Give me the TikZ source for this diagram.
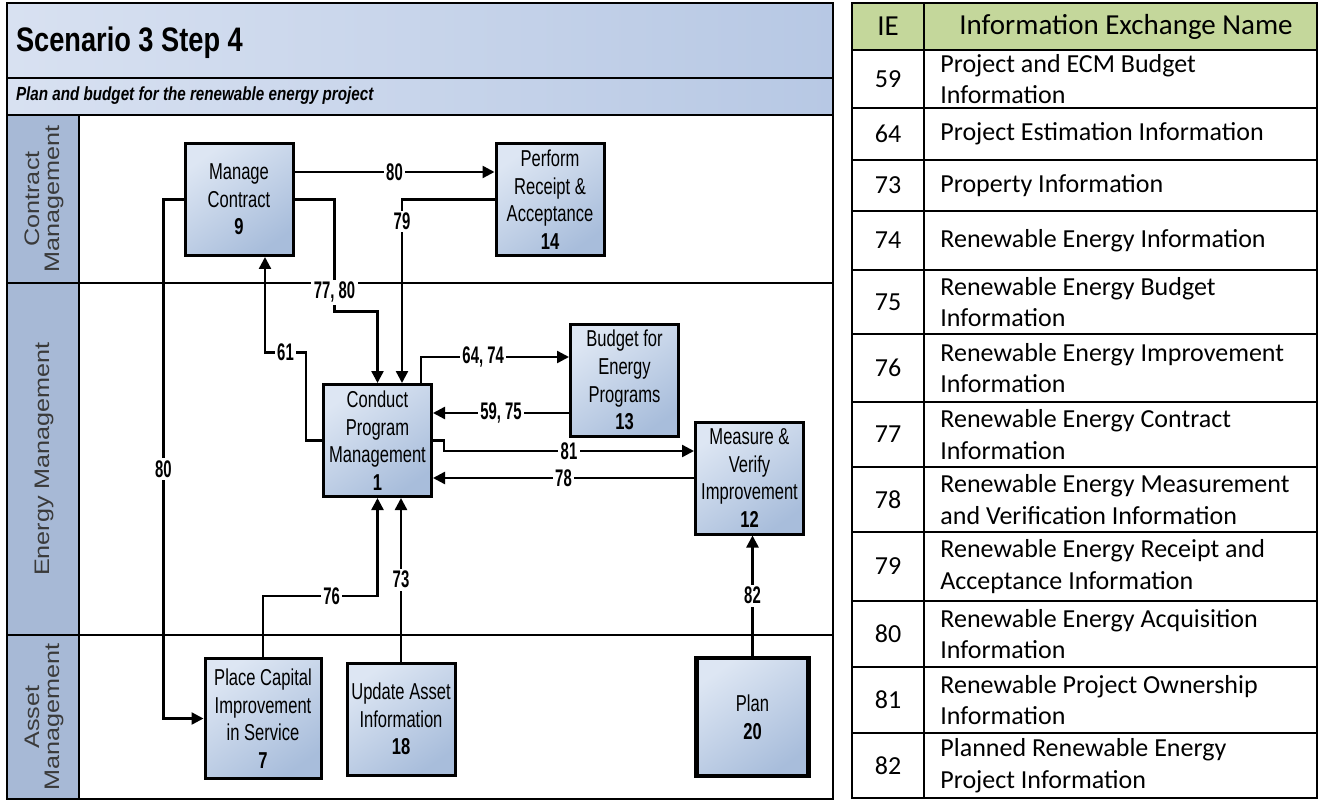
\documentclass[tikz,border=0pt]{standalone}
\usepackage{fontspec}
\setmainfont{Liberation Sans}
\newfontfamily\boxfont[FakeStretch=0.72]{Liberation Sans}
\newfontfamily\lblfont[FakeStretch=0.62]{Liberation Sans}
\newfontfamily\headfont[FakeStretch=0.8]{Liberation Sans}
\newfontfamily\lanefont[FakeStretch=1.2]{Liberation Sans}
\newfontfamily\tabfont{Carlito}
\usetikzlibrary{arrows.meta,calc}
\definecolor{bandlight}{HTML}{D8E1F1}
\definecolor{banddark}{HTML}{B7C8E4}
\definecolor{boxlight}{HTML}{DDE6F3}
\definecolor{boxdark}{HTML}{A8BDDB}
\definecolor{lanedark}{HTML}{A7B9D6}
\definecolor{lanelight}{HTML}{D3DEEE}
\definecolor{lanetext}{HTML}{3A3A3A}
\definecolor{headgreen}{HTML}{C4D79B}

\begin{document}
\begin{tikzpicture}[x=0.5pt,y=-0.5pt,
  proc/.style={draw=black,line width=1.5pt,top color=boxlight,bottom color=boxdark,shading angle=35,
    minimum width=54pt,minimum height=56pt,inner sep=0.5pt,align=center,
    font=\boxfont\fontsize{11.5}{13.8}\selectfont},
  flow/.style={line width=1.2pt,-{Triangle[length=6pt,width=6pt]}},
  ie/.style={fill=white,inner sep=1.2pt,font=\lblfont\bfseries\fontsize{12}{12}\selectfont},
  lane/.style={font=\lanefont\fontsize{10.5}{10}\selectfont,text=lanetext,align=center,rotate=90},
  cell/.style={font=\tabfont\fontsize{13}{15.8}\selectfont,align=left,inner sep=0pt},
]
\useasboundingbox (0,0) rectangle (1322,802);
\fill[white] (0,0) rectangle (1322,802);

% swim lanes
\shade[left color=bandlight,right color=banddark] (7,3) rectangle (833,115);
\shade[left color=lanedark,middle color=lanelight,right color=lanedark] (7,115) rectangle (79,799);
\draw[line width=1pt] (7,78) -- (833,78) (7,115) -- (833,115);
\draw[line width=1.2pt] (7,283) -- (833,283) (7,635) -- (833,635) (79,115) -- (79,799);
\draw[line width=1.2pt] (7,3) rectangle (833,799);

\node[anchor=west,font=\headfont\bfseries\fontsize{17}{17}\selectfont] (title) at (9,43) {Scenario 3 Step 4};
\node[anchor=west,font=\headfont\bfseries\itshape\fontsize{9.5}{9.5}\selectfont] (subtitle) at (9,96) {Plan and budget for the renewable energy project};

\node[lane] (cmlane) at (44,199) {Contract\\Management};
\node[lane] (emlane) at (44,459) {Energy Management};
\node[lane] (amlane) at (44,717) {Asset\\Management};

% activities
\node[proc] (mc) at (239,199.5) {Manage\\Contract\\\textbf{9}};
\node[proc] (pr) at (550,199.5) {Perform\\Receipt \&\\Acceptance\\\textbf{14}};
\node[proc] (cpm) at (377.5,440.5) {Conduct\\Program\\Management\\\textbf{1}};
\node[proc] (bep) at (624.5,380) {Budget for\\Energy\\Programs\\\textbf{13}};
\node[proc] (mvi) at (749.5,478) {Measure \&\\Verify\\Improvement\\\textbf{12}};
\node[proc,minimum width=58pt,minimum height=60pt] (pci) at (263,718.5) {Place Capital\\Improvement\\in Service\\\textbf{7}};
\node[proc] (uai) at (401,719) {Update Asset\\Information\\\textbf{18}};
\node[proc,line width=2.2pt,minimum width=56pt,minimum height=59pt] (plan) at (752.5,717) {Plan\\\textbf{20}};

% information exchanges
\draw[flow] ([yshift=13.75pt]mc.east) -- node[ie]{80} ([yshift=13.75pt]pr.west);
\draw[flow] (mc.west) -- ++(-20,0) |- node[ie,pos=0.26]{80} (pci.west);
\draw[flow] (mc.east) -- ++(40,0) -- node[ie,pos=0.83]{77, 80} ++(0,112) -| (cpm.north);
\draw[flow] (pr.west) -| node[ie,pos=0.56]{79} ([xshift=12.25pt]cpm.north);
\draw[flow] (cpm.west) -- ++(-16,0) -- ++(0,-88) -| node[ie,pos=0.25]{61} ([xshift=13pt]mc.south);
\draw[flow] ([xshift=21.75pt]cpm.north) |- node[ie,pos=0.71]{64, 74} ([yshift=11.5pt]bep.west);
\draw[flow] ([yshift=-16.5pt]bep.west) -- node[ie]{59, 75} ([yshift=13.75pt]cpm.east);
\draw[flow] (cpm.east) -- ++(11,0) |- node[ie,pos=0.75]{81} ([yshift=13.5pt]mvi.west);
\draw[flow] (mvi.west) -- node[ie]{78} ([yshift=-18.75pt]cpm.east);
\draw[flow] (pci.north) -- ++(0,-61) -| node[ie,pos=0.3]{76} (cpm.south);
\draw[flow] (uai.north) -- node[ie]{73} ([xshift=11.75pt]cpm.south);
\draw[flow] (plan.north) -- node[ie]{82} (plan.north |- mvi.south);

% exchange table
\fill[headgreen] (852,3) rectangle (1317,50);
\node[cell,font=\tabfont\fontsize{14.5}{14.5}\selectfont] (iehead) at (888,26.5) {IE};
\node[cell,font=\tabfont\fontsize{14.5}{14.5}\selectfont] (namehead) at (1126,26.5) {Information Exchange Name};
\foreach \ya/\yb/\num/\txt in {
  50/108/59/{Project and ECM Budget\\Information},
  108/160/64/{Project Estimation Information},
  160/211/73/{Property Information},
  211/270/74/{Renewable Energy Information},
  270/334/75/{Renewable Energy Budget\\Information},
  334/402/76/{Renewable Energy Improvement\\Information},
  402/467/77/{Renewable Energy Contract\\Information},
  467/532/78/{Renewable Energy Measurement\\and Verification Information},
  532/601/79/{Renewable Energy Receipt and\\Acceptance Information},
  601/667/80/{Renewable Energy Acquisition\\Information},
  667/733/81/{Renewable Project Ownership\\Information},
  733/798/82/{Planned Renewable Energy\\Project Information}} {
  \draw[line width=1pt] (852,\ya) -- (1317,\ya);
  \node[cell] (ie\num) at (888,{(\ya+\yb)/2}) {\num};
  \node[cell,anchor=west] (nm\num) at (940,{(\ya+\yb)/2}) {\txt};
}
\draw[line width=1pt] (852,3) rectangle (1317,798) (924,3) -- (924,798);
\end{tikzpicture}
\end{document}
